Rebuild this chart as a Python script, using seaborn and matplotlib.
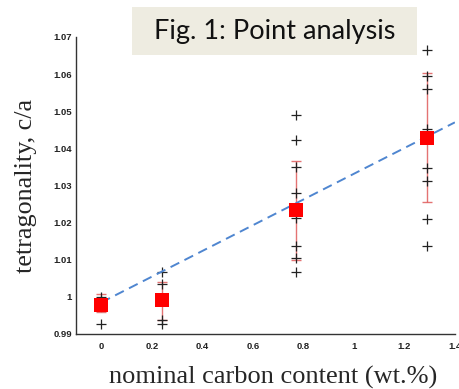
import numpy as np
import pandas as pd
import matplotlib
matplotlib.use("Agg")
import matplotlib.pyplot as plt
from matplotlib.patches import Rectangle
import seaborn as sns

# carbon content of the four samples and their mean c/a
carbon = [0.0, 0.24, 0.77, 1.29]
mean_ca = [0.9977, 0.9992, 1.0233, 1.0429]
err_top = [1.0008, 1.0040, 1.0366, 1.0602]
err_bottom = [0.9960, 0.9938, 1.0100, 1.0255]

# individual point measurements
pts_x = [0.0, 0.0,
         0.24, 0.24, 0.24, 0.24,
         0.77, 0.77, 0.77, 0.77, 0.77, 0.77, 0.77, 0.77,
         1.29, 1.29, 1.29, 1.29, 1.29, 1.29, 1.29, 1.29]
pts_y = [1.0000, 0.9927,
         1.0067, 1.0034, 0.9937, 0.9927,
         1.0489, 1.0422, 1.0351, 1.0280, 1.0212, 1.0138, 1.0105, 1.0068,
         1.0665, 1.0595, 1.0559, 1.0451, 1.0348, 1.0312, 1.0210, 1.0137]

# dashed trend line end points
fit_x = [0.0, 1.4]
fit_y = [0.9985, 1.0470]

xticks = [0, 0.2, 0.4, 0.6, 0.8, 1, 1.2, 1.4]
xticklabels = ["0", "0.2", "0.4", "0.6", "0.8", "1", "1.2", "1.4"]
yticks = [0.99, 1.0, 1.01, 1.02, 1.03, 1.04, 1.05, 1.06, 1.07]
yticklabels = ["0.99", "1", "1.01", "1.02", "1.03", "1.04", "1.05", "1.06", "1.07"]

sns.set_style("white")

fig = plt.figure(figsize=(4.59, 3.89), dpi=100)
ax = fig.add_axes([0.1656, 0.1414, 0.8254, 0.7636])

pts = pd.DataFrame({"x": pts_x, "y": pts_y})
sns.scatterplot(data=pts, x="x", y="y", marker="+", color="#222222",
                s=45, linewidth=0.9, ax=ax, zorder=3)

means = np.array(mean_ca)
yerr = [means - np.array(err_bottom), np.array(err_top) - means]
ax.errorbar(carbon, mean_ca, yerr=yerr, fmt="none", ecolor="#e05a5a",
            elinewidth=1.0, capsize=3.5, capthick=1.0, alpha=0.85, zorder=2)

fit = pd.DataFrame({"x": fit_x, "y": fit_y})
sns.lineplot(data=fit, x="x", y="y", color="#4f86d0", linestyle=(0, (5, 3)),
             linewidth=1.4, ax=ax, zorder=4)

mdf = pd.DataFrame({"x": carbon, "y": mean_ca})
sns.scatterplot(data=mdf, x="x", y="y", marker="s", color="#ff0000",
                s=95, edgecolor="#ff0000", linewidth=0, ax=ax, zorder=5)

ax.set_xlim(-0.1, 1.4)
ax.set_ylim(0.99, 1.07)
ax.set_xticks(xticks)
ax.set_xticklabels(xticklabels)
ax.set_yticks(yticks)
ax.set_yticklabels(yticklabels)
for lab in ax.get_xticklabels() + ax.get_yticklabels():
    lab.set_fontfamily("Liberation Sans")
    lab.set_fontweight("bold")
    lab.set_fontsize(6.8)
    lab.set_color("#222222")
ax.tick_params(direction="in", length=4, width=0.9, color="#333333")
ax.tick_params(axis="x", pad=6)
ax.tick_params(axis="y", pad=3)

for side in ["top", "right"]:
    ax.spines[side].set_visible(False)
for side in ["left", "bottom"]:
    ax.spines[side].set_color("#333333")
    ax.spines[side].set_linewidth(1.0)

ax.set_xlabel("nominal carbon content (wt.%)", family="Liberation Serif",
              fontsize=19, va="center")
ax.xaxis.set_label_coords(0.521, -0.145)
ax.set_ylabel("tetragonality, c/a", family="Liberation Serif",
              fontsize=18.8, labelpad=12)
ax.grid(False)

# title box
fig.patches.append(Rectangle((132 / 459, 1 - 55 / 389), 285 / 459, 48 / 389,
                             transform=fig.transFigure, facecolor="#eeece1",
                             edgecolor="none", zorder=6))
fig.text(274.5 / 459, 1 - 31 / 389, "Fig. 1: Point analysis", family="Lato",
         fontsize=19.5, ha="center", va="center", color="#111111", zorder=7)

fig.savefig("out.png", dpi=100)
